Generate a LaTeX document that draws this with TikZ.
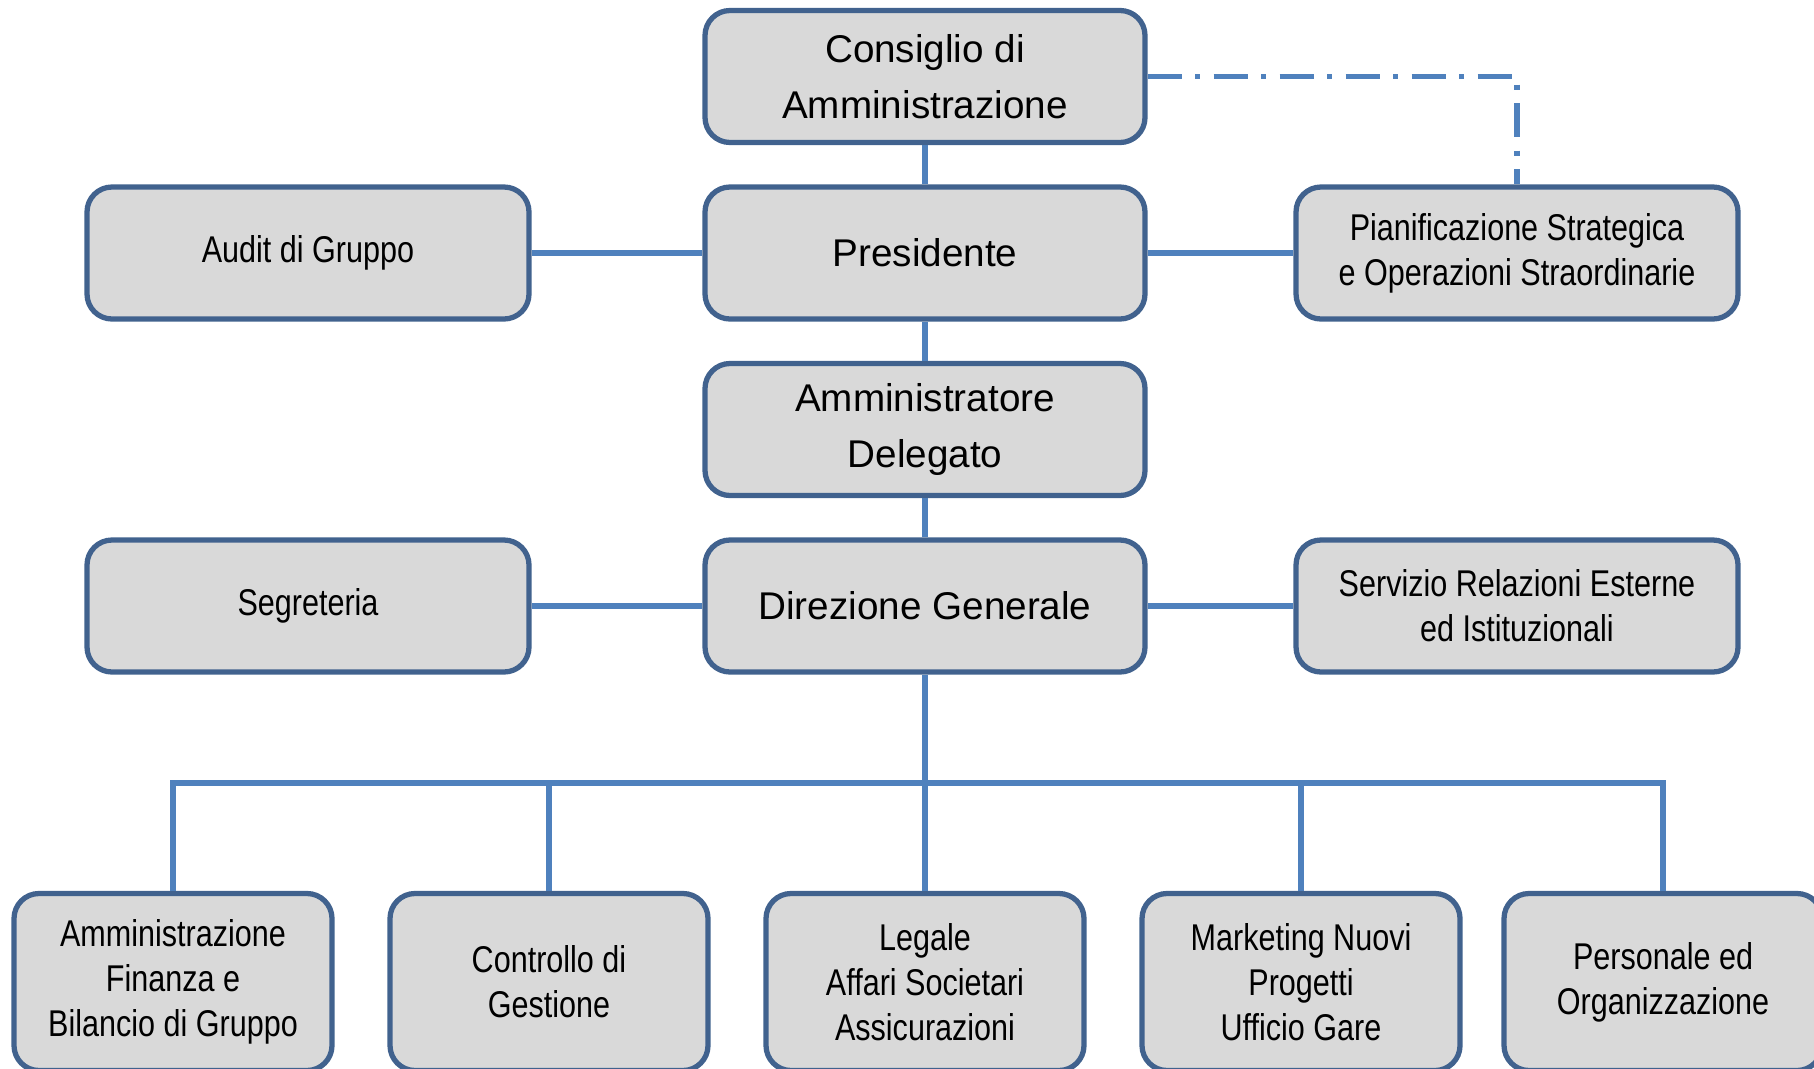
\documentclass[tikz,border=0pt]{standalone}
\usepackage{fontspec}
\setmainfont{Liberation Sans}
\newfontfamily\narrowfont[FakeStretch=0.82]{Liberation Sans}
\usetikzlibrary{positioning}
\definecolor{boxline}{HTML}{41628E}
\definecolor{boxfill}{HTML}{D9D9D9}
\definecolor{linkblue}{HTML}{4F81BD}

\begin{document}
\begin{tikzpicture}[node distance=1.765cm,on grid,
	unit/.style={draw=boxline,fill=boxfill,line width=1.5pt,rounded corners=0.25cm,align=center,inner sep=2pt},
	head/.style={unit,minimum width=4.4cm,minimum height=1.32cm,font=\fontsize{11}{15.8}\selectfont},
	staff/.style={unit,minimum width=4.42cm,minimum height=1.32cm,font=\narrowfont\fontsize{10.6}{12.8}\selectfont},
	dept/.style={unit,minimum width=3.18cm,minimum height=1.77cm,font=\narrowfont\fontsize{10.6}{12.8}\selectfont},
	link/.style={draw=linkblue,line width=1.6pt},
	dotlink/.style={link,dash pattern=on 0.34cm off 0.135cm on 0.05cm off 0.135cm}]
	\useasboundingbox (0,0) rectangle (18.14,-10.68);
	% top of the chart
	\node[head] (cda) at (9.25,-0.765) {Consiglio di\\Amministrazione};
	\node[head] (pre) [below=of cda] {Presidente};
	\node[head] (ad) [below=of pre] {Amministratore\\Delegato};
	\node[head] (dg) [below=of ad] {Direzione Generale};
	\node[staff] (aud) [left=6.17cm of pre] {Audit di Gruppo};
	\node[staff] (pse) [right=5.92cm of pre] {Pianificazione Strategica\\e Operazioni Straordinarie};
	\node[staff] (seg) [left=6.17cm of dg] {Segreteria};
	\node[staff] (sre) [right=5.92cm of dg] {Servizio Relazioni Esterne\\ed Istituzionali};
	% departments
	\node[dept] (leg) [below=3.76cm of dg] {Legale\\Affari Societari\\Assicurazioni};
	\node[dept] (cdg) [left=3.76cm of leg] {Controllo di\\Gestione};
	\node[dept] (afb) [left=3.76cm of cdg] {Amministrazione\\Finanza e\\Bilancio di Gruppo};
	\node[dept] (mkt) [right=3.76cm of leg] {Marketing Nuovi\\Progetti\\Ufficio Gare};
	\node[dept] (per) [right=3.62cm of mkt] {Personale ed\\Organizzazione};
	\coordinate (bus) at (0,-7.83);
	\path[link]
	(cda) edge (pre)
	(pre) edge (ad)
	      edge (aud)
	      edge (pse)
	(ad) edge (dg)
	(dg) edge (seg)
	     edge (sre)
	     edge (leg);
	\draw[dotlink] (cda.east) -| (pse.north);
	\draw[link] (afb.north) |- (dg.south |- bus) -| (per.north);
	\foreach \d in {cdg,mkt}
		\draw[link] (\d.north |- bus) -- (\d.north);
\end{tikzpicture}
\end{document}
